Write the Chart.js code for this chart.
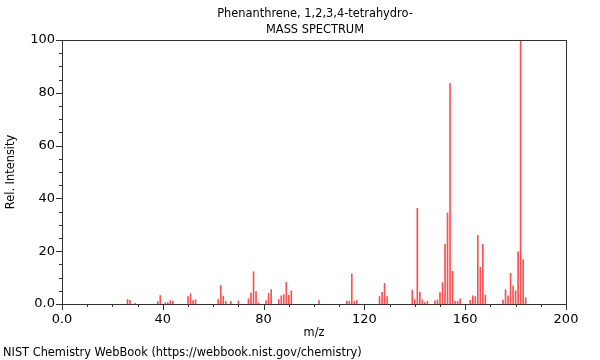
<!DOCTYPE html>
<html>
<head>
<meta charset="utf-8">
<script src="https://cdn.jsdelivr.net/npm/chart.js@4"></script>
<style>
  html, body { margin: 0; padding: 0; background: #fff; }
  #wrap { width: 600px; height: 360px; }
</style>
</head>
<body>
<div id="wrap"><canvas id="spec" width="600" height="360"></canvas></div>
<script>
var titleLines = ["Phenanthrene, 1,2,3,4-tetrahydro-", "MASS SPECTRUM"];
var footer = "NIST Chemistry WebBook (https://webbook.nist.gov/chemistry)";

var mz = [26, 27, 29, 38, 39, 41, 42, 43, 44, 50, 51, 52, 53, 62, 63, 64, 65, 67, 70,
          74, 75, 76, 77, 78, 81, 82, 83, 86, 87, 88, 89, 90, 91, 102, 113, 114, 115, 116, 117,
          126, 127, 128, 129, 139, 140, 141, 142, 143, 144, 145, 148, 149, 150, 151, 152, 153,
          154, 155, 156, 157, 158, 162, 163, 164, 165, 166, 167, 168, 175, 176, 177, 178, 179,
          180, 181, 182, 183, 184];
var intensity = [1.7, 1.4, 0.3, 0.9, 3.2, 0.5, 0.5, 1.3, 1.0, 2.8, 3.9, 1.3, 1.6, 1.7, 7.0, 3.0, 1.0, 1.0, 1.2,
          2.0, 4.2, 12.2, 4.7, 0.5, 1.3, 4.0, 5.5, 1.7, 3.1, 3.6, 8.2, 3.3, 5.0, 1.3, 1.1, 1.0, 11.4, 1.0, 1.3,
          2.8, 4.4, 7.8, 2.8, 5.3, 1.7, 36.2, 4.5, 1.6, 0.5, 1.0, 1.2, 1.5, 4.3, 8.1, 22.7, 34.5,
          83.5, 12.4, 1.0, 1.0, 2.0, 1.4, 3.1, 2.8, 26.0, 13.9, 22.6, 3.4, 1.5, 5.4, 3.1, 11.6, 6.9,
          5.0, 19.8, 100, 16.8, 2.4];

var xMajor = [0, 40, 80, 120, 160, 200];
var yMajor = [0, 20, 40, 60, 80, 100];

var points = mz.map(function (m, i) { return { x: m, y: intensity[i] }; });
var FONT = "'DejaVu Sans', sans-serif";

// frame, outward ticks, title and footer text
var decor = {
    id: 'decor',
    afterDraw: function (chart) {
        var c = chart.ctx, a = chart.chartArea;
        var xs = chart.scales.x, ys = chart.scales.y;
        c.save();
        c.strokeStyle = '#333';
        c.lineWidth = 1;
        c.strokeRect(Math.round(a.left) + 0.5, Math.round(a.top) + 0.5,
                     Math.round(a.right - a.left), Math.round(a.bottom - a.top));
        c.beginPath();
        xs.ticks.forEach(function (t) {
            var px = Math.round(xs.getPixelForValue(t.value)) + 0.5;
            var len = xMajor.indexOf(t.value) >= 0 ? 6 : 3;
            c.moveTo(px, Math.round(a.bottom));
            c.lineTo(px, Math.round(a.bottom) + len);
        });
        ys.ticks.forEach(function (t) {
            var py = Math.round(ys.getPixelForValue(t.value)) + 0.5;
            var len = yMajor.indexOf(t.value) >= 0 ? 6 : 3;
            c.moveTo(Math.round(a.left), py);
            c.lineTo(Math.round(a.left) - len, py);
        });
        c.stroke();
        c.fillStyle = '#000';
        c.font = '11.4px ' + FONT;
        c.textBaseline = 'middle';
        c.textAlign = 'center';
        c.fillText(titleLines[0], 315, 14);
        c.fillText(titleLines[1], 315, 30);
        c.textAlign = 'left';
        c.fillText(footer, 3, 353);
        c.restore();
    }
};

new Chart(document.getElementById('spec'), {
    type: 'bar',
    data: {
        datasets: [{
            data: points,
            backgroundColor: 'rgb(255, 80, 80)',
            borderWidth: 0,
            barThickness: 1
        }]
    },
    options: {
        responsive: false,
        animation: false,
        layout: { padding: { top: 40, right: 34, bottom: 0, left: 0 } },
        plugins: { legend: { display: false }, tooltip: { enabled: false } },
        scales: {
            x: {
                type: 'linear',
                min: 0, max: 200,
                offset: false,
                grid: { display: false, drawTicks: false },
                border: { display: false },
                ticks: {
                    stepSize: 10, autoSkip: false, maxRotation: 0, padding: 8,
                    color: '#000', font: { family: FONT, size: 13 },
                    callback: function (v) {
                        if (v === 0) return '0.0';
                        return xMajor.indexOf(v) >= 0 ? String(v) : '';
                    }
                },
                title: {
                    display: true, text: 'm/z', color: '#000',
                    font: { family: FONT, size: 11.4 },
                    padding: { top: 0, bottom: 20 }
                },
                afterFit: function (s) { s.height = 56; }
            },
            y: {
                min: 0, max: 100,
                grid: { display: false, drawTicks: false },
                border: { display: false },
                ticks: {
                    stepSize: 5, autoSkip: false, padding: 7,
                    color: '#000', font: { family: FONT, size: 13 },
                    callback: function (v) {
                        if (v === 0) return '0.0';
                        return yMajor.indexOf(v) >= 0 ? String(v) : '';
                    }
                },
                title: {
                    display: true, text: 'Rel. Intensity', color: '#000',
                    font: { family: FONT, size: 11.4 },
                    padding: { top: 4, bottom: 0 }
                },
                afterFit: function (s) { s.width = 62; }
            }
        }
    },
    plugins: [decor]
});
</script>
</body>
</html>
